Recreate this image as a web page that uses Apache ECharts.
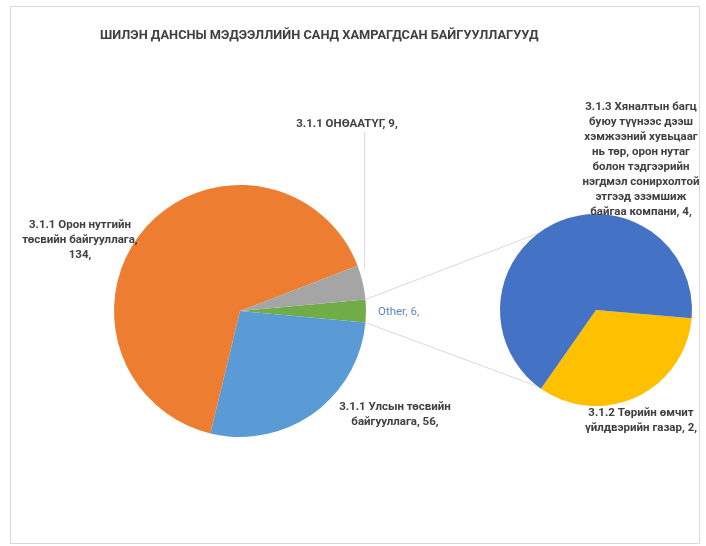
<!DOCTYPE html>
<html><head><meta charset="utf-8">
<script src="https://cdn.jsdelivr.net/npm/echarts@6/dist/echarts.min.js"></script>
<style>html,body{margin:0;padding:0;background:#fff}#c{width:706px;height:546px}</style>
</head><body><div id="c"></div><script>
const chartTitle = 'ШИЛЭН ДАНСНЫ МЭДЭЭЛЛИЙН САНД ХАМРАГДСАН БАЙГУУЛЛАГУУД';
const mainNames = ['Other', '3.1.1 Улсын төсвийн байгууллага', '3.1.1 Орон нутгийн төсвийн байгууллага', '3.1.1 ОНӨААТҮГ'];
const mainValues = [6, 56, 134, 9];
const mainLabelLines = [['Other, 6,'], ['3.1.1 Улсын төсвийн', 'байгууллага, 56,'], ['3.1.1 Орон нутгийн', 'төсвийн байгууллага,', '134,'], ['3.1.1 ОНӨААТҮГ, 9,']];
const mainColors = ['#70AD47', '#5B9BD5', '#ED7D31', '#A5A5A5'];
const subNames = ['3.1.2 Төрийн өмчит үйлдвэрийн газар', '3.1.3 Хяналтын багц буюу түүнээс дээш хэмжээний хувьцааг нь төр, орон нутаг болон тэдгээрийн нэгдмэл сонирхолтой этгээд эзэмшиж байгаа компани'];
const subValues = [2, 4];
const subLabelLines = [['3.1.2 Төрийн өмчит', 'үйлдвэрийн газар, 2,'], ['3.1.3 Хяналтын багц', 'буюу түүнээс дээш', 'хэмжээний хувьцааг', 'нь төр, орон нутаг', 'болон тэдгээрийн', 'нэгдмэл сонирхолтой', 'этгээд эзэмшиж', 'байгаа компани, 4,']];
const subColors = ['#FFC000', '#4472C4'];

const FONT = 'Roboto';
const LH = 15;
const mainC = [240, 311], mainR = 126;
const subC = [596, 310], subR = 96;
const total = mainValues.reduce((a, b) => a + b, 0);
const otherSweep = mainValues[0] / total * 360;
const mainStart = otherSweep / 2;
const subStart = -5;

// label anchor positions (text placement only)
const mainLabelPos = [
  {x: 378, y: 312, align: 'left'},
  {x: 395, y: 415, align: 'center'},
  {x: 80, y: 240, align: 'center'},
  {x: 347, y: 124, align: 'center'}
];
const subLabelPos = [
  {x: 641, y: 421, align: 'center'},
  {x: 641, y: 160, align: 'center'}
];

const chart = echarts.init(document.getElementById('c'), null, {renderer: 'canvas'});

function ptAt(c, r, compassDeg) {
  const a = compassDeg * Math.PI / 180;
  return [c[0] + r * Math.sin(a), c[1] - r * Math.cos(a)];
}
const otherTop = 90 - mainStart, otherBot = 90 + mainStart;
const grayMid = otherTop - (mainValues[3] / total * 360) / 2;
const p1 = ptAt(mainC, mainR, otherTop), p2 = ptAt(mainC, mainR, otherBot);
const q1 = ptAt(subC, subR, 270 + 53), q2 = ptAt(subC, subR, 270 - 53);
const g = ptAt(mainC, mainR, grayMid);

function labelTexts(lines, pos, color, weight) {
  const y0 = pos.y - (lines.length - 1) * LH / 2;
  return lines.map((t, k) => ({
    type: 'text', x: pos.x, y: y0 + k * LH, z: 10,
    style: {
      text: t, align: pos.align, textAlign: pos.align, verticalAlign: 'middle', textVerticalAlign: 'middle',
      fontFamily: FONT, fontSize: 11.5, fontWeight: weight || 'bold', fill: color || '#404040'
    }
  }));
}

const graphics = [
  {type: 'rect', shape: {x: 10.5, y: 6.5, width: 689, height: 537}, style: {fill: 'none', stroke: '#d9d9d9', lineWidth: 1}, z: 0},
  {type: 'line', shape: {x1: p1[0], y1: p1[1], x2: q1[0], y2: q1[1]}, style: {stroke: '#d9d9d9', lineWidth: 1}, z: 1},
  {type: 'line', shape: {x1: p2[0], y1: p2[1], x2: q2[0], y2: q2[1]}, style: {stroke: '#d9d9d9', lineWidth: 1}, z: 1},
  {type: 'line', shape: {x1: g[0] + 2, y1: 132, x2: g[0] + 2, y2: g[1] - 14}, style: {stroke: '#d9d9d9', lineWidth: 1}, z: 1}
];
mainLabelLines.forEach((l, i) => graphics.push(...labelTexts(l, mainLabelPos[i], i === 0 ? '#5B85C8' : null, i === 0 ? 'normal' : null)));
subLabelLines.forEach((l, i) => graphics.push(...labelTexts(l, subLabelPos[i])));

chart.setOption({
  backgroundColor: '#fff',
  animation: false,
  title: {
    text: chartTitle, left: 95, top: 24,
    textStyle: {fontFamily: FONT, fontSize: 12.8, fontWeight: 'bold', color: '#404040'}
  },
  graphic: graphics,
  series: [
    {
      type: 'pie', center: mainC, radius: mainR, startAngle: mainStart, clockwise: true,
      data: mainNames.map((n, i) => ({name: n, value: mainValues[i], itemStyle: {color: mainColors[i]}})),
      label: {show: false}, labelLine: {show: false}
    },
    {
      type: 'pie', center: subC, radius: subR, startAngle: subStart, clockwise: true,
      data: subNames.map((n, i) => ({name: n, value: subValues[i], itemStyle: {color: subColors[i]}})),
      label: {show: false}, labelLine: {show: false}
    }
  ]
});
</script></body></html>
